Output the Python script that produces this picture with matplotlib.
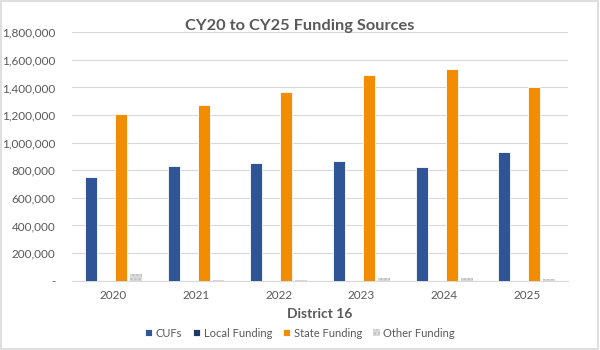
import matplotlib
matplotlib.use("Agg")
import matplotlib.pyplot as plt
import numpy as np
from matplotlib.patches import Rectangle
from matplotlib.ticker import FuncFormatter

plt.rcParams['font.family'] = ['Lato', 'DejaVu Sans']

years = ["2020", "2021", "2022", "2023", "2024", "2025"]
cufs = [752000, 833000, 855000, 867000, 824000, 935000]
local_funding = [0, 0, 0, 0, 0, 0]
state_funding = [1210000, 1271000, 1367000, 1493000, 1532000, 1406000]
other_funding = [48000, 2000, 2000, 20000, 17000, 15000]

series = [
    ("CUFs", cufs, "#2F5597"),
    ("Local Funding", local_funding, "#1F3864"),
    ("State Funding", state_funding, "#F28C00"),
    ("Other Funding", other_funding, "#D9D9D9"),
]

fig = plt.figure(figsize=(6, 3.5), dpi=100)
ax = fig.add_axes([0.12, 0.198, 0.827, 0.71])

x = np.arange(len(years))
step = 0.181
width = 0.145
for i, (name, vals, color) in enumerate(series):
    off = (i - 1.5) * step
    kw = dict(color=color, edgecolor="white", linewidth=0.6, label=name, zorder=3)
    if name == "Other Funding":
        kw.update(hatch="....", edgecolor="#BFBFBF", linewidth=0)
    ax.bar(x + off, vals, width, **kw)

ax.set_xlim(-0.5, len(years) - 0.5)
ax.set_ylim(0, 1800000)
ax.set_yticks(np.arange(0, 1800001, 200000))
ax.yaxis.set_major_formatter(FuncFormatter(lambda v, p: "-" if v == 0 else f"{int(v):,}"))
ax.set_xticks(x)
ax.set_xticklabels(years)
ax.grid(axis="y", color="#D9D9D9", linewidth=0.8, zorder=0)
for s in ["top", "right", "left"]:
    ax.spines[s].set_visible(False)
ax.spines["bottom"].set_color("#D9D9D9")
ax.tick_params(axis="both", length=0, colors="#595959", labelsize=8.5)
ax.tick_params(axis="y", pad=12)
ax.tick_params(axis="x", pad=7)

fig.suptitle("CY20 to CY25 Funding Sources", x=0.5, y=0.925,
             fontsize=11.8, fontweight="bold", color="#595959", va="center")
ax.set_xlabel("District 16", fontsize=10, fontweight="bold", color="#595959", labelpad=5)

handles, labels = ax.get_legend_handles_labels()
leg = fig.legend(handles, labels, loc="center", bbox_to_anchor=(0.5, 0.048), ncol=4,
                 frameon=False, fontsize=8, handlelength=0.6, handleheight=0.6,
                 handletextpad=0.35, columnspacing=1.0)
for t in leg.get_texts():
    t.set_color("#595959")

fig.patches.append(Rectangle((0.002, 0.003), 0.995, 0.993, transform=fig.transFigure,
                             fill=False, edgecolor="#D9D9D9", linewidth=1.2))

fig.savefig("out.png", dpi=100, facecolor="white")
